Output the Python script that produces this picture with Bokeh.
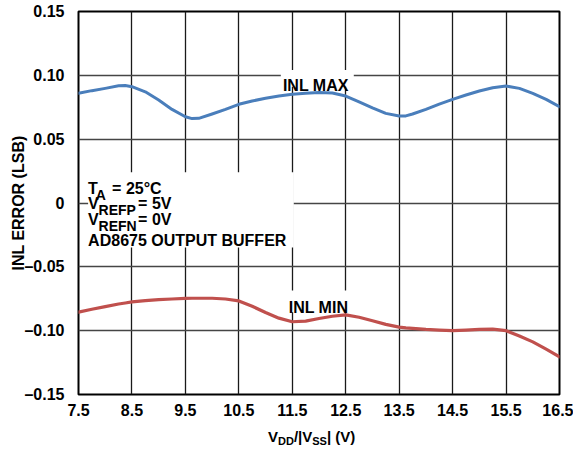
from bokeh.plotting import figure
from bokeh.models import Range1d, FixedTicker, CustomJSTickFormatter, Label, Div
from bokeh.layouts import column
from bokeh.embed import file_html
from bokeh.resources import INLINE

# ---------------- data ----------------
vdd = [7.5, 7.75, 8.0, 8.25, 8.375, 8.5, 8.75, 9.0, 9.25, 9.5, 9.625, 9.75,
       10.0, 10.25, 10.5, 10.75, 11.0, 11.25, 11.5, 11.75, 12.0, 12.25, 12.5,
       12.75, 13.0, 13.25, 13.5, 13.625, 13.75, 14.0, 14.25, 14.5, 14.75,
       15.0, 15.25, 15.5, 15.75, 16.0, 16.25, 16.5]
inl_max = [0.0859, 0.0880, 0.0898, 0.0918, 0.0920, 0.0911, 0.0871, 0.0806,
           0.0733, 0.0676, 0.0661, 0.0663, 0.0697, 0.0733, 0.0773, 0.0799,
           0.0820, 0.0838, 0.0851, 0.0860, 0.0866, 0.0861, 0.0838, 0.0793,
           0.0746, 0.0702, 0.0681, 0.0682, 0.0697, 0.0733, 0.0775, 0.0812,
           0.0846, 0.0877, 0.0903, 0.0916, 0.0898, 0.0859, 0.0812, 0.0754]
inl_min = [-0.0855, -0.0832, -0.0812, -0.0791, -0.0783, -0.0775, -0.0765,
           -0.0757, -0.0752, -0.0747, -0.0746, -0.0746, -0.0746, -0.0752,
           -0.0767, -0.0809, -0.0858, -0.0902, -0.0930, -0.0925, -0.0905,
           -0.0887, -0.0876, -0.0895, -0.0922, -0.0951, -0.0972, -0.0978,
           -0.0982, -0.0990, -0.0995, -0.1000, -0.0995, -0.0990, -0.0988,
           -0.1000, -0.1042, -0.1088, -0.1145, -0.1205]
x_ticks = [7.5, 8.5, 9.5, 10.5, 11.5, 12.5, 13.5, 14.5, 15.5, 16.5]
x_tick_labels = ["7.5", "8.5", "9.5", "10.5", "11.5", "12.5", "13.5", "14.5", "15.5", "16.5"]
y_ticks = [-0.15, -0.10, -0.05, 0.0, 0.05, 0.10, 0.15]
y_tick_labels = ["\u20130.15", "\u20130.10", "\u20130.05", "0", "0.05", "0.10", "0.15"]

FONT = "Liberation Sans"
BLUE = "#4a7ebb"
RED = "#c0504d"

fig = figure(width=573, height=424,
             x_range=Range1d(7.5, 16.5), y_range=Range1d(-0.15, 0.15),
             output_backend="svg", toolbar_location=None,
             min_border_left=78, min_border_right=14,
             min_border_top=11, min_border_bottom=30, margin=0)
fig.background_fill_color = "white"
fig.border_fill_color = "white"
fig.outline_line_color = "black"
fig.outline_line_width = 2

fmt_js = """
const i = tvals.findIndex(t => Math.abs(t - tick) < 1e-9);
return i >= 0 ? tlabels[i] : '';
"""
fig.xaxis.ticker = FixedTicker(ticks=x_ticks)
fig.yaxis.ticker = FixedTicker(ticks=y_ticks)
fig.xaxis.formatter = CustomJSTickFormatter(args=dict(tvals=x_ticks, tlabels=x_tick_labels), code=fmt_js)
fig.yaxis.formatter = CustomJSTickFormatter(args=dict(tvals=y_ticks, tlabels=y_tick_labels), code=fmt_js)
fig.xgrid.ticker = FixedTicker(ticks=x_ticks)
fig.ygrid.ticker = FixedTicker(ticks=y_ticks)
fig.xgrid.grid_line_color = "#1a1a1a"
fig.xgrid.grid_line_width = 1.3
fig.ygrid.grid_line_color = "#454545"
fig.ygrid.grid_line_width = 1.5

for ax in (fig.xaxis, fig.yaxis):
    ax.axis_line_color = None
    ax.major_tick_line_color = None
    ax.minor_tick_line_color = None
    ax.major_label_text_font = FONT
    ax.major_label_text_font_size = "16px"
    ax.major_label_text_font_style = "bold"
    ax.major_label_text_color = "black"
fig.yaxis.major_label_standoff = 8
fig.xaxis.major_label_standoff = 3

fig.yaxis.axis_label = "INL ERROR (LSB)"
fig.yaxis.axis_label_text_font = FONT
fig.yaxis.axis_label_text_font_size = "16px"
fig.yaxis.axis_label_text_font_style = "bold"
fig.yaxis.axis_label_text_color = "black"
fig.yaxis.axis_label_standoff = -6

# white backgrounds behind annotation texts (hide grid lines)
fig.quad(left=[7.68, 11.285, 11.36], right=[11.528, 12.651, 12.63],
         top=[0.0241, 0.1042, -0.0686], bottom=[-0.0348, 0.0911, -0.0856],
         fill_color="white", line_color=None)

fig.line(vdd, inl_max, line_color=BLUE, line_width=3, line_join="round", line_cap="round")
fig.line(vdd, inl_min, line_color=RED, line_width=3.2, line_join="round", line_cap="round")


def txt(x, y, s, dx=0, dy=0, size="16px", align="left"):
    fig.add_layout(Label(x=x, y=y, x_offset=dx, y_offset=dy, text=s,
                         text_font=FONT, text_font_size=size, text_font_style="bold",
                         text_color="black", text_align=align,
                         text_baseline="alphabetic"))


txt(11.94, 0.0917, "INL MAX", align="center")
txt(11.99, -0.0822, "INL MIN", align="center")

# condition box
bx = 7.68
SUB = "14px"
txt(bx, 0.0113, "T")
txt(bx, 0.0113, "A", dx=7.7, dy=-6, size=SUB)
txt(bx, 0.0113, "= 25\u00b0C", dx=24)
txt(bx, -0.0005, "V")
txt(bx, -0.0005, "REFP", dx=10.5, dy=-6, size=SUB)
txt(bx, -0.0005, "= 5V", dx=50)
txt(bx, -0.0130, "V")
txt(bx, -0.0130, "REFN", dx=10.5, dy=-6, size=SUB)
txt(bx, -0.0130, "= 0V", dx=50)
txt(bx, -0.0293, "AD8675 OUTPUT BUFFER")

# x axis title with subscripts (HTML below the figure)
sub = '<span style="position:relative;top:3px;font-size:11px">{}</span>'
x_title = ('<div style="padding-left:268px;padding-top:5px;font-family:\'Liberation Sans\';'
           'font-weight:bold;font-size:15px;line-height:16px;color:black;white-space:nowrap">'
           'V' + sub.format("DD") + '/|V' + sub.format("SS") + '| (V)</div>')
title_div = Div(text=x_title, width=573, height=25, margin=0)

p = column(fig, title_div, spacing=0)

open("out.html", "w").write(file_html(p, INLINE))
